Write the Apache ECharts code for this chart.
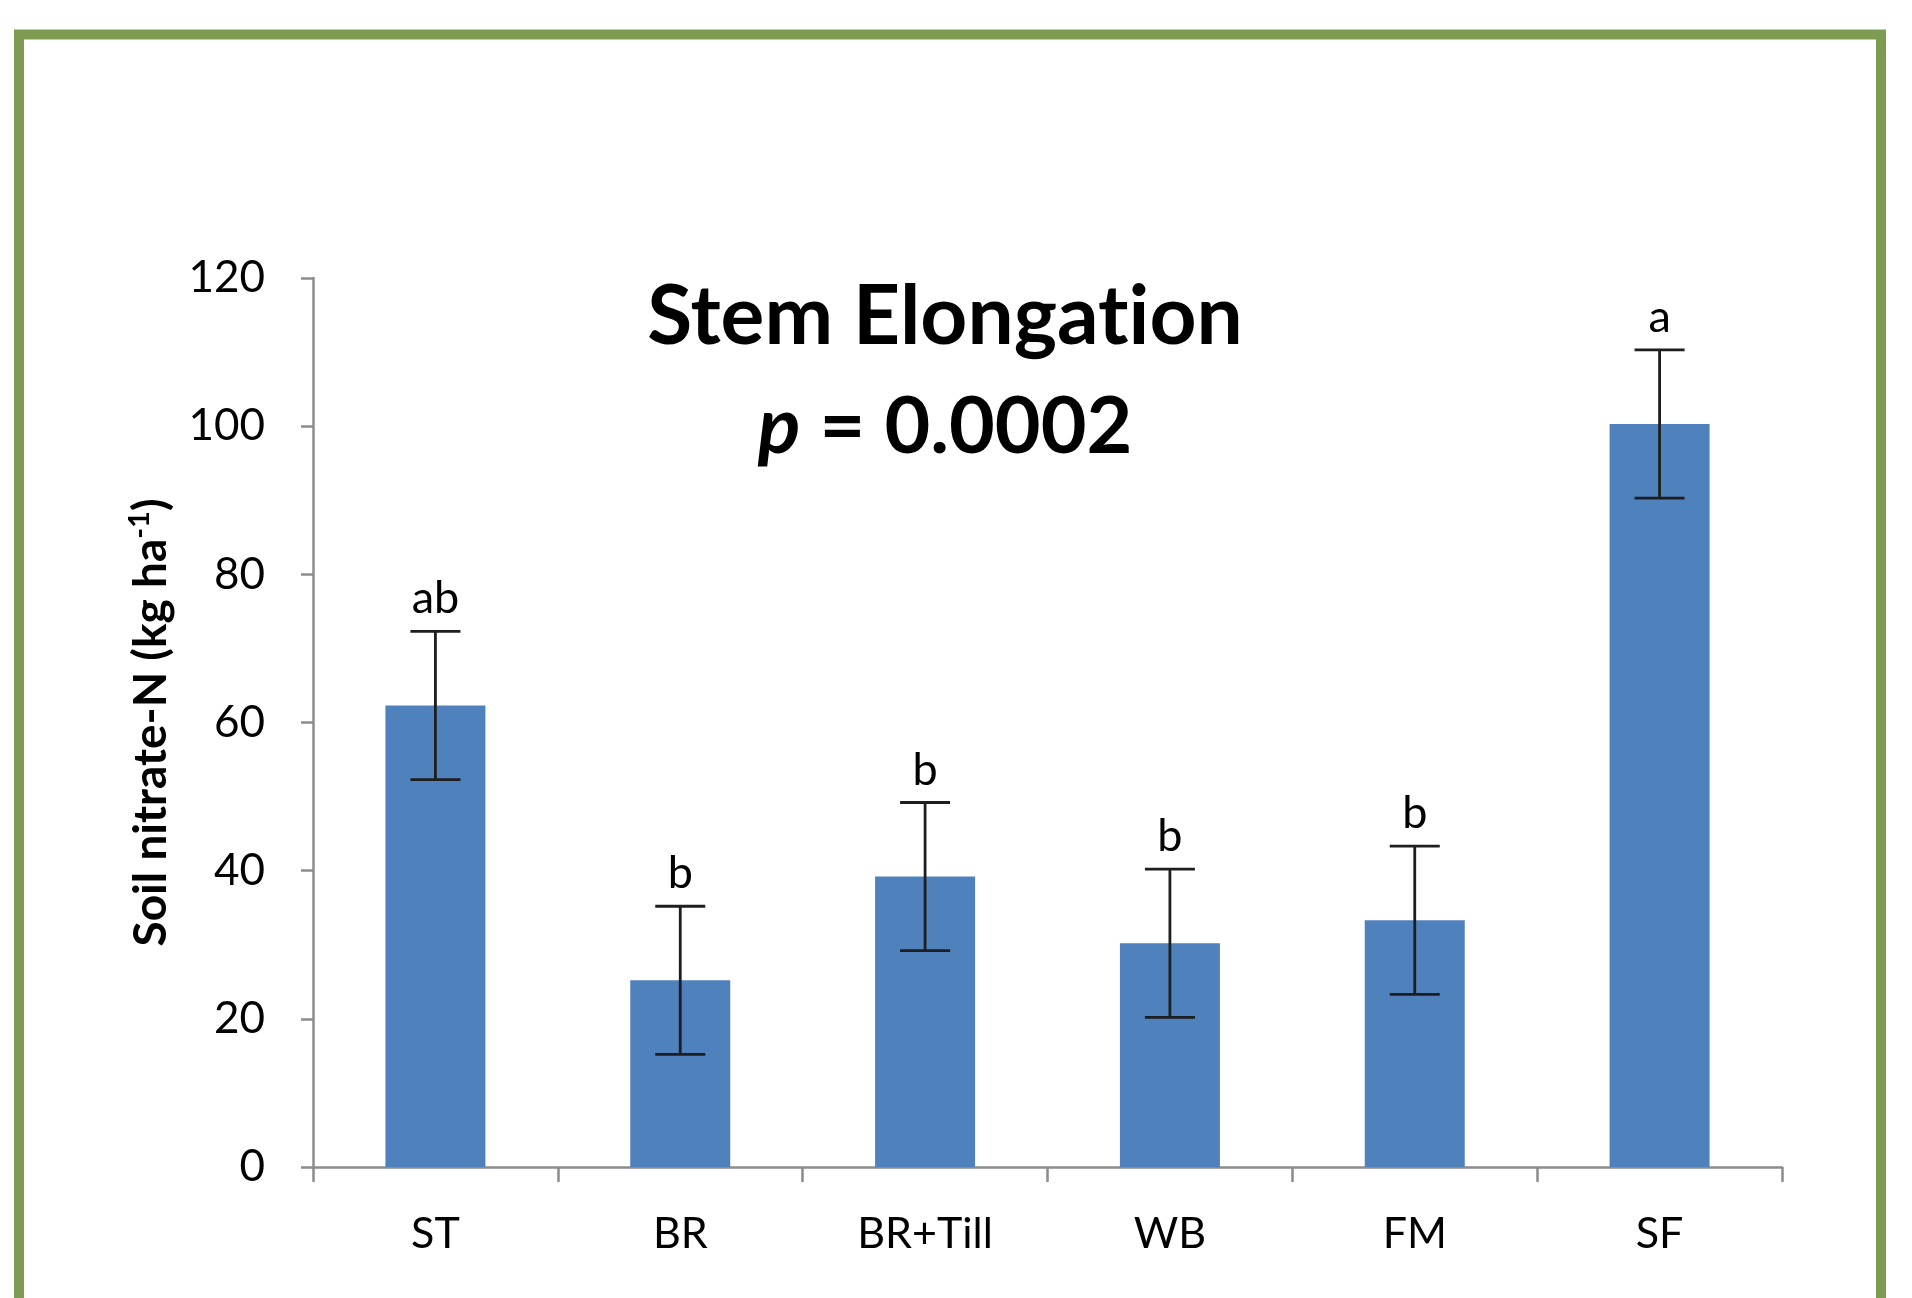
<!DOCTYPE html>
<html>
<head>
<meta charset="utf-8">
<title>Stem Elongation – Soil nitrate-N</title>
<script src="https://cdn.jsdelivr.net/npm/echarts@6/dist/echarts.min.js"></script>
<style>
  html, body { margin: 0; padding: 0; background: #ffffff; }
  #chart { width: 1912px; height: 1298px; }
</style>
</head>
<body>
<div id="chart"></div>
<script>
// Treatments on the x axis
const categories = ['ST', 'BR', 'BR+Till', 'WB', 'FM', 'SF'];
// Mean soil nitrate-N (kg ha-1) per treatment
const means = [62.3, 25.2, 39.2, 30.2, 33.3, 100.3];
// Standard error per treatment
const errors = [10, 10, 10, 10, 10, 10];
// Mean separation letters
const letters = ['ab', 'b', 'b', 'b', 'b', 'a'];
// Y axis ticks
const yTicks = [0, 20, 40, 60, 80, 100, 120];

const FONT = 'Lato, "Open Sans", sans-serif';
const AXIS_GREY = '#8c8c8c';
// zero-width non-joiner keeps Lato from forming its "ti" ligature
const ZWNJ = '\u200C';

const errorData = categories.map((c, i) => [i, means[i] - errors[i], means[i] + errors[i]]);

const chart = echarts.init(document.getElementById('chart'), null, { renderer: 'canvas' });

chart.setOption({
  backgroundColor: '#ffffff',
  animation: false,
  grid: { left: 313, right: 130, top: 278, bottom: 131, containLabel: false },
  graphic: [
    {
      // olive frame around the figure
      type: 'rect',
      shape: { x: 19, y: 34.5, width: 1862, height: 1400 },
      style: { fill: 'none', stroke: '#7e9b52', lineWidth: 10 },
      silent: true, z: 10
    },
    {
      type: 'text',
      x: 945, y: 318,
      style: {
        text: 'Stem Elongat' + ZWNJ + 'ion',
        font: 'bold 82px ' + FONT,
        fill: '#000000',
        align: 'center', verticalAlign: 'middle'
      },
      z: 10
    },
    {
      type: 'text',
      x: 945, y: 428,
      style: {
        text: '{i|p}{r| = 0.0002}',
        align: 'center', verticalAlign: 'middle',
        rich: {
          i: { fontFamily: FONT, fontSize: 79, fontWeight: 'bold', fontStyle: 'italic', fill: '#000' },
          r: { fontFamily: FONT, fontSize: 79, fontWeight: 'bold', fill: '#000' }
        }
      },
      z: 10
    }
  ],
  xAxis: {
    type: 'category',
    data: categories,
    boundaryGap: true,
    axisLine: { show: true, lineStyle: { color: AXIS_GREY, width: 2.5 } },
    axisTick: { show: true, length: 15, interval: 0, lineStyle: { color: AXIS_GREY, width: 2.5 } },
    axisLabel: { margin: 46, color: '#000', fontFamily: FONT, fontSize: 43, interval: 0 },
    splitLine: { show: false }
  },
  yAxis: {
    type: 'value',
    min: yTicks[0],
    max: yTicks[yTicks.length - 1],
    interval: 20,
    name: '{b|Soil nitrate-N (kg ha}{s|-1}{b|)}',
    nameLocation: 'middle',
    nameGap: 136,
    nameRotate: 90,
    nameTextStyle: {
      rich: {
        b: { fontFamily: FONT, fontSize: 46, fontWeight: 'bold', color: '#000', lineHeight: 52 },
        s: { fontFamily: FONT, fontSize: 29, fontWeight: 'bold', color: '#000', verticalAlign: 'top', lineHeight: 29 }
      }
    },
    axisLine: { show: true, lineStyle: { color: AXIS_GREY, width: 2.5 } },
    axisTick: { show: true, length: 12, lineStyle: { color: AXIS_GREY, width: 2.5 } },
    axisLabel: { margin: 48, color: '#000', fontFamily: FONT, fontSize: 44 },
    splitLine: { show: false }
  },
  series: [
    {
      type: 'bar',
      data: means,
      barWidth: 100,
      itemStyle: { color: '#4f81bd' },
      z: 2
    },
    {
      type: 'custom',
      data: errorData,
      encode: { x: 0, y: [1, 2] },
      z: 5,
      renderItem: function (params, api) {
        const lo = api.coord([api.value(0), api.value(1)]);
        const hi = api.coord([api.value(0), api.value(2)]);
        const cx = lo[0];
        const half = 25;
        const ls = { stroke: '#1e1e1e', lineWidth: 2.8 };
        return {
          type: 'group',
          children: [
            { type: 'line', shape: { x1: cx, y1: hi[1], x2: cx, y2: lo[1] }, style: ls },
            { type: 'line', shape: { x1: cx - half, y1: hi[1], x2: cx + half, y2: hi[1] }, style: ls },
            { type: 'line', shape: { x1: cx - half, y1: lo[1], x2: cx + half, y2: lo[1] }, style: ls },
            {
              type: 'text',
              x: cx, y: hi[1] - 10,
              style: {
                text: letters[params.dataIndex],
                font: '45px ' + FONT,
                fill: '#000',
                align: 'center', verticalAlign: 'bottom'
              }
            }
          ]
        };
      }
    }
  ]
});
</script>
</body>
</html>
